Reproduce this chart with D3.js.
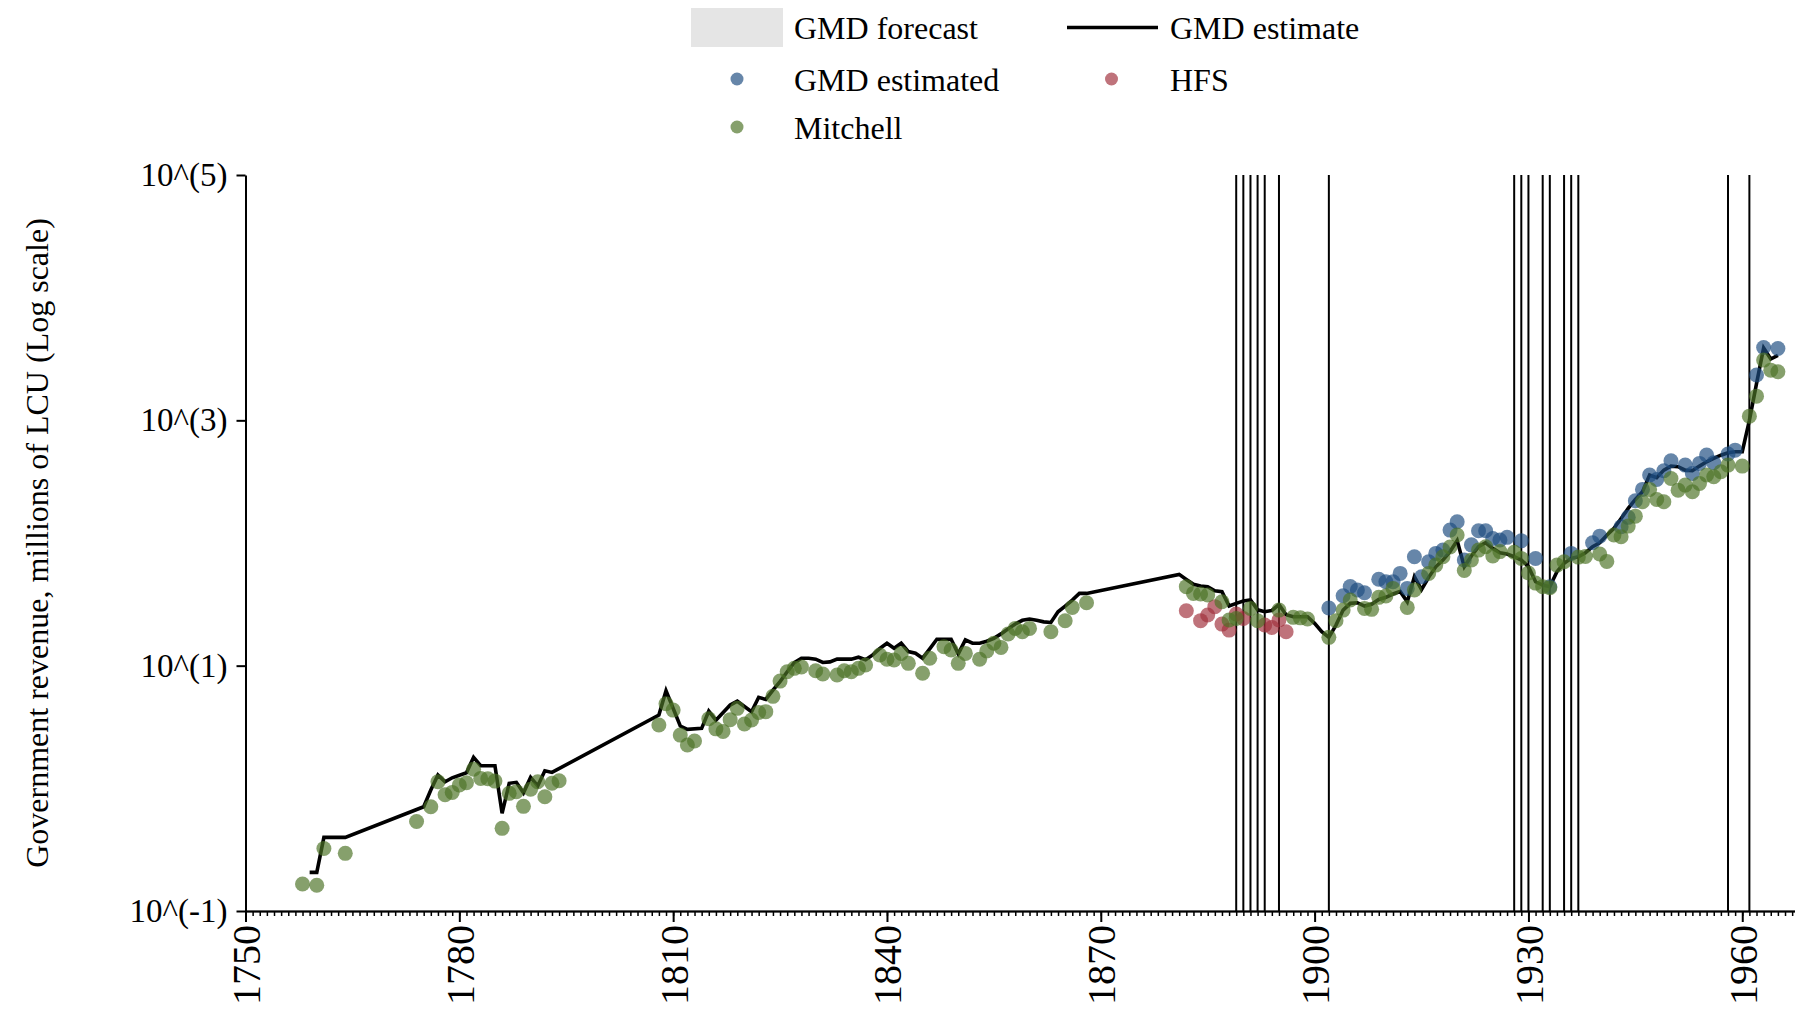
<!DOCTYPE html>
<html>
<head>
<meta charset="utf-8">
<script src="https://cdn.jsdelivr.net/npm/d3@7"></script>
<style>
  html, body { margin: 0; padding: 0; background: #fff; }
  svg { display: block; font-family: "Liberation Serif", "Times New Roman", serif; }
  svg text { font-family: "Liberation Serif", "Times New Roman", serif; }
</style>
</head>
<body>
<div id="chart"></div>
<script>
// values are log10 of government revenue (millions of LCU), as plotted
const gmdEstimate = [
  [1759,-0.685],[1760,-0.685],[1761,-0.40],[1764,-0.40],[1775,-0.15],[1776,-0.014],[1777,0.108],
  [1778,0.054],[1779,0.086],[1781,0.127],[1782,0.253],[1783,0.184],[1785,0.184],[1786,-0.204],
  [1787,0.041],[1788,0.049],[1789,-0.036],[1790,0.089],[1791,0.019],[1792,0.143],[1793,0.130],
  [1808,0.597],[1809,0.795],[1811,0.508],[1812,0.481],[1814,0.489],[1815,0.630],[1816,0.555],
  [1818,0.679],[1819,0.710],[1821,0.624],[1822,0.742],[1823,0.725],[1824,0.80],[1825,0.87],
  [1826,0.95],[1827,1.024],[1828,1.061],[1829,1.061],[1830,1.053],[1831,1.026],[1832,1.031],
  [1833,1.053],[1834,1.053],[1835,1.053],[1836,1.069],[1837,1.048],[1838,1.088],[1839,1.140],
  [1840,1.183],[1841,1.142],[1842,1.183],[1843,1.115],[1844,1.102],[1845,1.061],[1846,1.137],
  [1847,1.215],[1848,1.215],[1849,1.215],[1850,1.096],[1851,1.210],[1852,1.183],[1853,1.183],
  [1854,1.199],[1855,1.223],[1856,1.259],[1857,1.30],[1858,1.34],[1859,1.37],[1860,1.38],
  [1861,1.37],[1862,1.357],[1863,1.352],[1864,1.439],[1865,1.486],[1866,1.535],[1867,1.589],
  [1868,1.589],[1881,1.744],[1882,1.703],[1883,1.663],[1884,1.649],[1885,1.644],[1886,1.611],
  [1887,1.603],[1888,1.486],[1889,1.508],[1890,1.527],[1891,1.535],[1892,1.455],[1893,1.440],
  [1894,1.450],[1895,1.497],[1896,1.415],[1897,1.399],[1898,1.399],[1899,1.399],[1900,1.345],
  [1901,1.277],[1902,1.231],[1903,1.331],[1904,1.453],[1905,1.508],[1906,1.513],[1907,1.486],
  [1908,1.50],[1909,1.540],[1910,1.557],[1911,1.584],[1912,1.605],[1913,1.521],[1914,1.725],
  [1915,1.620],[1916,1.720],[1917,1.806],[1918,1.861],[1919,1.93],[1920,2.02],[1921,1.807],
  [1922,1.894],[1923,1.97],[1924,2.002],[1925,1.956],[1926,1.921],[1927,1.910],[1928,1.888],
  [1929,1.861],[1930,1.807],[1931,1.684],[1932,1.657],[1933,1.644],[1934,1.766],[1935,1.834],
  [1936,1.875],[1937,1.888],[1938,1.921],[1939,1.97],[1940,2.002],[1941,2.064],[1942,2.119],
  [1943,2.200],[1944,2.282],[1945,2.355],[1946,2.418],[1947,2.554],[1948,2.532],[1949,2.594],
  [1950,2.627],[1951,2.622],[1952,2.594],[1953,2.589],[1954,2.627],[1955,2.662],[1956,2.689],
  [1957,2.716],[1958,2.735],[1959,2.744],[1960,2.744],[1961,3.00],[1962,3.30],[1963,3.59],
  [1964,3.50],[1965,3.53]
];

const gmdEstimated = [
  [1902,1.47],[1904,1.57],[1905,1.645],[1906,1.617],[1907,1.595],[1909,1.705],[1910,1.684],
  [1911,1.684],[1912,1.752],[1913,1.63],[1914,1.888],[1915,1.725],[1916,1.847],[1917,1.915],
  [1918,1.943],[1919,2.105],[1920,2.173],[1921,1.861],[1922,1.985],[1923,2.10],[1924,2.10],
  [1925,2.037],[1926,2.024],[1927,2.046],[1929,2.018],[1931,1.874],[1933,1.643],[1936,1.915],
  [1939,2.002],[1940,2.056],[1943,2.133],[1944,2.209],[1945,2.344],[1946,2.437],[1947,2.554],
  [1948,2.518],[1949,2.589],[1950,2.670],[1952,2.635],[1953,2.567],[1954,2.649],[1955,2.717],
  [1956,2.654],[1958,2.725],[1959,2.757],[1962,3.369],[1963,3.594],[1965,3.586]
];

const hfs = [
  [1882,1.448],[1884,1.367],[1885,1.413],[1886,1.481],[1887,1.339],[1888,1.290],[1889,1.421],
  [1890,1.385],[1893,1.331],[1894,1.312],[1895,1.372],[1896,1.277]
];

const mitchell = [
  [1758,-0.78],[1760,-0.79],[1761,-0.49],[1764,-0.53],[1774,-0.27],[1776,-0.15],[1777,0.054],
  [1778,-0.052],[1779,-0.033],[1780,0.027],[1781,0.046],[1782,0.155],[1783,0.081],[1784,0.078],
  [1785,0.059],[1786,-0.326],[1787,-0.041],[1788,-0.027],[1789,-0.147],[1790,-0.008],[1791,0.054],
  [1792,-0.069],[1793,0.041],[1794,0.062],
  [1808,0.516],[1809,0.690],[1810,0.638],[1811,0.434],[1812,0.353],[1813,0.386],[1815,0.567],
  [1816,0.485],[1817,0.464],[1818,0.560],[1819,0.652],[1820,0.524],[1821,0.557],[1822,0.618],
  [1823,0.625],[1824,0.750],[1825,0.874],[1826,0.950],[1827,0.978],[1828,0.990],[1830,0.959],
  [1831,0.932],[1833,0.924],[1834,0.959],[1835,0.951],[1836,0.978],[1837,1.005],[1839,1.087],
  [1840,1.052],[1841,1.046],[1842,1.100],[1843,1.019],[1845,0.938],[1846,1.060],[1848,1.155],
  [1849,1.128],[1850,1.019],[1851,1.100],[1853,1.052],[1854,1.120],[1855,1.183],[1856,1.149],
  [1857,1.258],[1858,1.304],[1859,1.276],[1860,1.304],[1863,1.276],[1865,1.366],[1866,1.475],
  [1868,1.513],
  [1882,1.644],[1883,1.589],[1884,1.584],[1885,1.576],[1887,1.521],[1888,1.372],[1889,1.385],
  [1891,1.467],[1892,1.366],[1895,1.453],[1897,1.394],[1898,1.39],[1899,1.380],
  [1902,1.231],[1903,1.366],[1904,1.453],[1905,1.535],[1907,1.467],[1908,1.459],[1909,1.557],
  [1910,1.568],[1911,1.630],[1913,1.475],[1914,1.617],[1916,1.752],[1917,1.820],[1918,1.888],
  [1919,1.967],[1920,2.065],[1921,1.776],[1922,1.861],[1923,1.942],[1924,1.97],[1925,1.895],
  [1926,1.93],[1928,1.925],[1929,1.874],[1930,1.755],[1931,1.673],[1932,1.644],[1933,1.635],
  [1934,1.820],[1935,1.847],[1937,1.885],[1938,1.89],[1940,1.91],[1941,1.85],[1942,2.065],
  [1943,2.051],[1944,2.138],[1945,2.219],[1946,2.336],[1947,2.437],[1948,2.355],[1949,2.336],
  [1950,2.526],[1951,2.431],[1952,2.472],[1953,2.418],[1954,2.486],[1955,2.554],[1956,2.540],
  [1957,2.581],[1958,2.635],[1960,2.627],[1961,3.034],[1962,3.197],[1963,3.491],[1964,3.409],
  [1965,3.396]
];

// years marked with vertical lines
const crisisYears = [1889,1890,1891,1892,1893,1895,1902,1928,1929,1930,1932,1933,1935,1936,1937,1958,1961];

const xTicks = [1750,1780,1810,1840,1870,1900,1930,1960];
const yTicks = [-1,1,3,5];

const serif = '"Liberation Serif", "Times New Roman", serif';
const W = 1795, H = 1012;
const svg = d3.select('#chart').append('svg').attr('width', W).attr('height', H);

const x = d3.scaleLinear().domain([1750, 1967.4]).range([245.5, 1795]);
const y = d3.scaleLinear().domain([-1, 5]).range([911, 175]);

const colors = { est: '#1d4c80', hfs: '#a0303c', mit: '#4d7326' };

// vertical crisis lines
svg.append('g').selectAll('line').data(crisisYears).join('line')
  .attr('x1', d => x(d)).attr('x2', d => x(d))
  .attr('y1', y(5)).attr('y2', y(-1))
  .attr('stroke', '#000').attr('stroke-width', 2);

// GMD estimate line
const line = d3.line().x(d => x(d[0])).y(d => y(d[1]));
svg.append('path').datum(gmdEstimate)
  .attr('d', line).attr('fill', 'none')
  .attr('stroke', '#000').attr('stroke-width', 3.6);

// scatter series
const dots = [[gmdEstimated, colors.est], [hfs, colors.hfs], [mitchell, colors.mit]];
dots.forEach(([data, c]) => {
  svg.append('g').selectAll('circle').data(data).join('circle')
    .attr('cx', d => x(d[0])).attr('cy', d => y(d[1])).attr('r', 7.5)
    .attr('fill', c).attr('fill-opacity', 0.68);
});

// axes
const yAxis = svg.append('g').attr('transform', 'translate(245.5,0)')
  .call(d3.axisLeft(y).tickValues(yTicks).tickFormat(d => `10^(${d})`)
    .tickSize(9).tickPadding(9).tickSizeOuter(0));
yAxis.attr('font-family', null).attr('font-size', null);
yAxis.selectAll('path,line').attr('stroke', '#000').attr('stroke-width', 2);
yAxis.selectAll('text').attr('fill', '#000')
  .style('font-family', serif).style('font-size', '33px');

const xMinor = svg.append('g').attr('transform', 'translate(0,911)')
  .call(d3.axisBottom(x).tickValues(d3.range(1750, 1968)).tickSize(5).tickFormat('').tickSizeOuter(0));
xMinor.selectAll('path,line').attr('stroke', '#000').attr('stroke-width', 1.5);

const xAxis = svg.append('g').attr('transform', 'translate(0,911)')
  .call(d3.axisBottom(x).tickValues(xTicks).tickFormat(d3.format('d')).tickSize(11).tickSizeOuter(0));
xAxis.attr('font-family', null).attr('font-size', null);
xAxis.selectAll('path,line').attr('stroke', '#000').attr('stroke-width', 2);
xAxis.selectAll('text')
  .attr('transform', 'rotate(-90)')
  .attr('x', -14).attr('y', 0).attr('dy', '0.35em')
  .attr('text-anchor', 'end')
  .attr('fill', '#000')
  .style('font-family', serif).style('font-size', '40px');

// y title
svg.append('text')
  .attr('transform', 'translate(37,543) rotate(-90)')
  .attr('text-anchor', 'middle').attr('dy', '0.35em')
  .style('font-family', serif).style('font-size', '32px')
  .text('Government revenue, millions of LCU (Log scale)');

// legend
const lg = svg.append('g');
lg.append('rect').attr('x', 691).attr('y', 8).attr('width', 92).attr('height', 39).attr('fill', '#e5e5e5');
lg.append('line').attr('x1', 1067).attr('x2', 1158).attr('y1', 27.5).attr('y2', 27.5)
  .attr('stroke', '#000').attr('stroke-width', 3.6);
const legendDots = [
  { cx: 737, cy: 79, c: colors.est },
  { cx: 1111.5, cy: 79, c: colors.hfs },
  { cx: 737, cy: 127, c: colors.mit }
];
lg.selectAll('circle').data(legendDots).join('circle')
  .attr('cx', d => d.cx).attr('cy', d => d.cy).attr('r', 6.5)
  .attr('fill', d => d.c).attr('fill-opacity', 0.68);
const legendText = [
  { t: 'GMD forecast', x: 794, y: 28 },
  { t: 'GMD estimate', x: 1170, y: 28 },
  { t: 'GMD estimated', x: 794, y: 80 },
  { t: 'HFS', x: 1170, y: 80 },
  { t: 'Mitchell', x: 794, y: 128 }
];
lg.selectAll('text').data(legendText).join('text')
  .attr('x', d => d.x).attr('y', d => d.y).attr('dy', '0.35em')
  .style('font-family', serif).style('font-size', '32px')
  .text(d => d.t);
</script>
</body>
</html>
